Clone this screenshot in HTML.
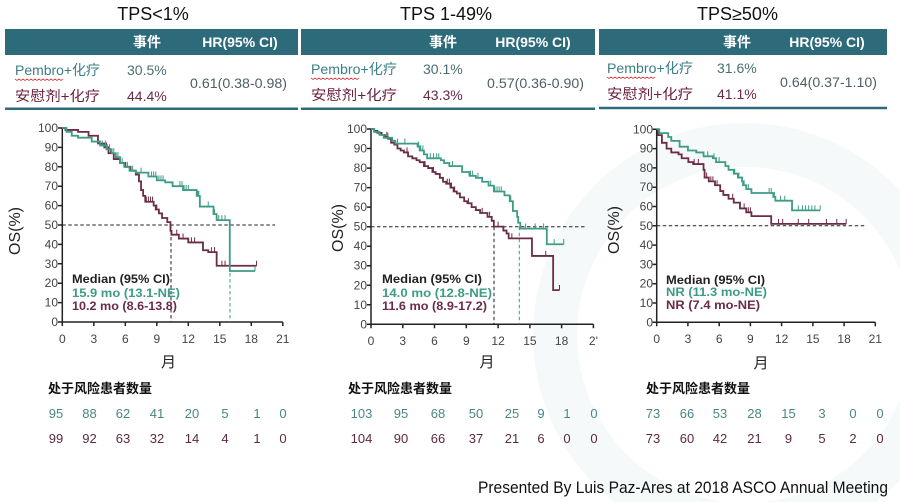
<!DOCTYPE html>
<html><head><meta charset="utf-8"><style>
html,body{margin:0;padding:0;background:#fff;}
svg{display:block;font-family:"Liberation Sans","Noto Sans CJK SC",sans-serif;}
.g{fill:none;stroke:#3d9b86;stroke-width:1.8;vector-effect:non-scaling-stroke;stroke-linejoin:miter}
.r{fill:none;stroke:#6a2c46;stroke-width:1.8;vector-effect:non-scaling-stroke;stroke-linejoin:miter}
.gt{fill:none;stroke:#3d9b86;stroke-width:1;vector-effect:non-scaling-stroke}
.rt{fill:none;stroke:#6a2c46;stroke-width:1;vector-effect:non-scaling-stroke}
.ax{stroke:#222;stroke-width:1.5;fill:none}
.dash{stroke:#222;stroke-width:1;stroke-dasharray:3.5 2.5;fill:none}
.dashg{stroke:#3d9b86;stroke-width:1;stroke-dasharray:3.5 2.5;fill:none}
.yl text{font-size:12px;fill:#444;text-anchor:end}
.xl text{font-size:12px;fill:#444;text-anchor:middle}
.bar{font-size:14px;font-weight:bold;fill:#fff;text-anchor:middle}
.lg{font-size:11.5px;font-weight:bold}
.rk{font-size:13px;text-anchor:middle}
</style></head><body>
<svg width="900" height="502" viewBox="0 0 900 502" xmlns="http://www.w3.org/2000/svg">
<!-- faint watermark -->
<circle cx="745" cy="335" r="190" fill="none" stroke="#f6f9f9" stroke-width="44"/>

<!-- ===== Headers ===== -->
<text x="153" y="20" font-size="18" text-anchor="middle" fill="#111">TPS&lt;1%</text>
<text x="446" y="20" font-size="18" text-anchor="middle" fill="#111">TPS 1-49%</text>
<text x="737.5" y="20" font-size="18" text-anchor="middle" fill="#111">TPS≥50%</text>

<rect x="5" y="29" width="293" height="26" fill="#2d6b7b"/>
<rect x="301" y="29" width="294" height="26" fill="#2d6b7b"/>
<rect x="599" y="29" width="288" height="26" fill="#2d6b7b"/>

<text class="bar" x="147" y="47">事件</text>
<text class="bar" x="240" y="47">HR(95% CI)</text>
<text class="bar" x="443" y="47">事件</text>
<text class="bar" x="533" y="47">HR(95% CI)</text>
<text class="bar" x="737" y="47">事件</text>
<text class="bar" x="827" y="47">HR(95% CI)</text>

<!-- chart1 header rows -->
<text x="15" y="75" font-size="14" fill="#3b7f86" textLength="85" lengthAdjust="spacingAndGlyphs">Pembro+化疗</text>
<path d="M15 79 l2 1.5 l2 -1.5 l2 1.5 l2 -1.5 l2 1.5 l2 -1.5 l2 1.5 l2 -1.5 l2 1.5 l2 -1.5 l2 1.5 l2 -1.5 l2 1.5 l2 -1.5 l2 1.5 l2 -1.5 l2 1.5 l2 -1.5 l2 1.5 l2 -1.5 l2 1.5 l2 -1.5 l2 1.5 l2 -1.5" stroke="#d04040" stroke-width="0.8" fill="none"/>
<text x="15" y="101" font-size="14" fill="#6b1f3d" textLength="85" lengthAdjust="spacingAndGlyphs">安慰剂+化疗</text>
<text x="127" y="75" font-size="14" fill="#4a6f73">30.5%</text>
<text x="127" y="101" font-size="14" fill="#6b2845">44.4%</text>
<text x="190" y="88" font-size="14" fill="#4d5f63" textLength="97" lengthAdjust="spacingAndGlyphs">0.61(0.38-0.98)</text>
<line x1="5" y1="108.8" x2="298" y2="108.8" stroke="#2d6b7b" stroke-width="2.5"/>

<!-- chart2 header rows -->
<text x="311" y="74" font-size="14" fill="#3b7f86" textLength="86" lengthAdjust="spacingAndGlyphs">Pembro+化疗</text>
<path d="M311 78 l2 1.5 l2 -1.5 l2 1.5 l2 -1.5 l2 1.5 l2 -1.5 l2 1.5 l2 -1.5 l2 1.5 l2 -1.5 l2 1.5 l2 -1.5 l2 1.5 l2 -1.5 l2 1.5 l2 -1.5 l2 1.5 l2 -1.5 l2 1.5 l2 -1.5 l2 1.5 l2 -1.5 l2 1.5 l2 -1.5" stroke="#d04040" stroke-width="0.8" fill="none"/>
<text x="311" y="100" font-size="14" fill="#6b1f3d" textLength="86" lengthAdjust="spacingAndGlyphs">安慰剂+化疗</text>
<text x="423" y="74" font-size="14" fill="#4a6f73">30.1%</text>
<text x="423" y="100" font-size="14" fill="#6b2845">43.3%</text>
<text x="487" y="88" font-size="14" fill="#4d5f63" textLength="97" lengthAdjust="spacingAndGlyphs">0.57(0.36-0.90)</text>
<line x1="301" y1="108.8" x2="595" y2="108.8" stroke="#2d6b7b" stroke-width="2.5"/>

<!-- chart3 header rows -->
<text x="607" y="73" font-size="14" fill="#3b7f86" textLength="86" lengthAdjust="spacingAndGlyphs">Pembro+化疗</text>
<path d="M607 77 l2 1.5 l2 -1.5 l2 1.5 l2 -1.5 l2 1.5 l2 -1.5 l2 1.5 l2 -1.5 l2 1.5 l2 -1.5 l2 1.5 l2 -1.5 l2 1.5 l2 -1.5 l2 1.5 l2 -1.5 l2 1.5 l2 -1.5 l2 1.5 l2 -1.5 l2 1.5 l2 -1.5 l2 1.5 l2 -1.5" stroke="#d04040" stroke-width="0.8" fill="none"/>
<text x="607" y="99" font-size="14" fill="#6b1f3d" textLength="86" lengthAdjust="spacingAndGlyphs">安慰剂+化疗</text>
<text x="717" y="73" font-size="14" fill="#4a6f73">31.6%</text>
<text x="717" y="99" font-size="14" fill="#6b2845">41.1%</text>
<text x="780" y="87" font-size="14" fill="#4d5f63" textLength="97" lengthAdjust="spacingAndGlyphs">0.64(0.37-1.10)</text>
<line x1="599" y1="108" x2="887" y2="108" stroke="#2d6b7b" stroke-width="2.5"/>

<!-- ===== Chart 1 ===== -->
<text transform="translate(20,231) rotate(-90)" font-size="16" text-anchor="middle" fill="#222">OS(%)</text>
<g class="yl" transform="translate(58,326)">
<text y="0">0</text><text y="-19.4">10</text><text y="-38.8">20</text><text y="-58.2">30</text><text y="-77.6">40</text><text y="-97">50</text><text y="-116.4">60</text><text y="-135.8">70</text><text y="-155.2">80</text><text y="-174.6">90</text><text y="-194">100</text>
</g>
<g class="xl" transform="translate(62.3,343)">
<text x="0">0</text><text x="31.5">3</text><text x="63">6</text><text x="94.5">9</text><text x="126">12</text><text x="157.5">15</text><text x="189">18</text><text x="220.5">21</text>
</g>
<path class="ax" d="M62.3 128 V322 H282.8"/>
<path class="ax" d="M58 322h4.3M58 302.6h4.3M58 283.2h4.3M58 263.8h4.3M58 244.4h4.3M58 225h4.3M58 205.6h4.3M58 186.2h4.3M58 166.8h4.3M58 147.4h4.3M58 128h4.3"/>
<path class="ax" d="M62.3 322v4M93.8 322v4M125.3 322v4M156.8 322v4M188.3 322v4M219.8 322v4M251.3 322v4M282.8 322v4"/>
<path class="dash" d="M62.3 225H275M171 225V322"/>
<path class="dashg" d="M230 225V322"/>
<g transform="translate(62.3,322) scale(10.5,-1.94)">
<polyline class="r" points="0,100 0.3,100 0.3,99 1.5,99 1.5,98 2.5,98 2.5,96 3.4,96 3.4,92 4,92 4,90 4.4,90 4.4,87 4.9,87 4.9,84 5.5,84 5.5,82 6,82 6,80 6.5,80 6.5,78 7,78 7,76 7.3,76 7.3,72.5 7.5,72.5 7.5,68 7.7,68 7.7,65 7.9,65 7.9,62 8.7,62 8.7,60 8.9,60 8.9,58 9.2,58 9.2,56 9.5,56 9.5,53.6 10,53.6 10,51.5 10.3,51.5 10.3,47 10.4,47 10.4,45 11.1,45 11.1,43 12,43 12,41 13.4,41 13.4,37 13.9,37 13.9,36 14.7,36 14.7,29 18.5,29"/>
<path class="rt" d="M4.2 90v2.6M4.6 87v2.6M8 62v2.6M8.2 62v2.6M8.4 62v2.6M8.6 62v2.6M9 58v2.6M10.9 45v2.6M11.5 43v2.6M12.3 41v2.6M12.6 41v2.6M14.2 36v2.6M14.5 36v2.6M15.2 29v2.6M15.5 29v2.6M18.5 29v2.6"/>
<polyline class="g" points="0,100 0.4,100 0.4,98 0.9,98 0.9,96 1.5,96 1.5,95 2.8,95 2.8,93 3.6,93 3.6,91 4.2,91 4.2,89 4.7,89 4.7,87 5.1,87 5.1,85 5.5,85 5.5,82 5.9,82 5.9,80 6.4,80 6.4,78 7,78 7,77 8.2,77 8.2,75 9,75 9,73 9.8,73 9.8,72 10.5,72 10.5,70 11.5,70 11.5,68 12.8,68 12.8,65 13.1,65 13.1,59.5 14.4,59.5 14.4,55.6 14.7,55.6 14.7,52.5 15.95,52.5 15.95,26.3 18.35,26.3"/>
<path class="gt" d="M3.8 91v2.6M4.1 91v2.6M4.3 89v2.6M4.5 89v2.6M4.9 87v2.6M5.3 85v2.6M5.7 82v2.6M6.2 80v2.6M6.7 78v2.6M7.5 77v2.6M8.5 75v2.6M8.7 75v2.6M8.9 75v2.6M9.2 73v2.6M9.4 73v2.6M9.6 73v2.6M11.2 70v2.6M11.4 70v2.6M11.6 68v2.6M11.8 68v2.6M12 68v2.6M12.9 65v2.6M13 65v2.6M13.9 59.5v2.6M14.5 55.6v2.6M14.9 52.5v2.6M15.2 52.5v2.6M15.5 52.5v2.6M18.35 26.3v2.6"/>
</g>
<text class="lg" x="72" y="283" fill="#222" textLength="98" lengthAdjust="spacingAndGlyphs">Median (95% CI)</text>
<text class="lg" x="72" y="297" fill="#3d9b86" textLength="108" lengthAdjust="spacingAndGlyphs">15.9 mo (13.1-NE)</text>
<text class="lg" x="72" y="310" fill="#6a2c46" textLength="105" lengthAdjust="spacingAndGlyphs">10.2 mo (8.6-13.8)</text>
<text x="168.5" y="367" font-size="15" text-anchor="middle" fill="#222">月</text>
<text x="48" y="393" font-size="13" font-weight="bold" fill="#111">处于风险患者数量</text>
<g class="rk" fill="#4a8686">
<text x="56" y="418">95</text><text x="89.5" y="418">88</text><text x="123" y="418">62</text><text x="157" y="418">41</text><text x="192" y="418">20</text><text x="225" y="418">5</text><text x="257" y="418">1</text><text x="283" y="418">0</text>
</g>
<g class="rk" fill="#5a2a40">
<text x="56" y="443">99</text><text x="89.5" y="443">92</text><text x="123" y="443">63</text><text x="157" y="443">32</text><text x="192" y="443">14</text><text x="225" y="443">4</text><text x="257" y="443">1</text><text x="283" y="443">0</text>
</g>

<!-- ===== Chart 2 ===== -->
<text transform="translate(343,228) rotate(-90)" font-size="16" text-anchor="middle" fill="#222">OS(%)</text>
<g class="yl" transform="translate(367,328.3)">
<text y="0">0</text><text y="-19.53">10</text><text y="-39.06">20</text><text y="-58.6">30</text><text y="-78.1">40</text><text y="-97.65">50</text><text y="-117.2">60</text><text y="-136.7">70</text><text y="-156.2">80</text><text y="-175.8">90</text><text y="-195.3">100</text>
</g>
<g class="xl" transform="translate(371,345)">
<text x="0">0</text><text x="31.77">3</text><text x="63.5">6</text><text x="95.3">9</text><text x="127.1">12</text><text x="158.9">15</text><text x="190.6">18</text><text x="222.4">2'</text>
</g>
<path class="ax" d="M371 129 V324.3 H593.4"/>
<path class="ax" d="M367 324.3h4M367 304.8h4M367 285.2h4M367 265.7h4M367 246.2h4M367 226.7h4M367 207.1h4M367 187.6h4M367 168.1h4M367 148.5h4M367 129h4"/>
<path class="ax" d="M371 324.3v4M402.8 324.3v4M434.5 324.3v4M466.3 324.3v4M498.1 324.3v4M529.9 324.3v4M561.6 324.3v4M593.4 324.3v4"/>
<path class="dash" d="M371 226.7H585M494 226.7V324.3"/>
<path class="dashg" d="M519.3 226.7V324.3"/>
<g transform="translate(371,324.3) scale(10.59,-1.953)">
<polyline class="r" points="0,100 0.3,100 0.3,99 0.6,99 0.6,98 1,98 1,97 1.3,97 1.3,96 1.6,96 1.6,95 1.9,95 1.9,93 2.2,93 2.2,92 2.5,92 2.5,90 2.8,90 2.8,89 3.1,89 3.1,88 3.5,88 3.5,86 3.9,86 3.9,85 4.3,85 4.3,84 4.6,84 4.6,83 5,83 5,81 5.4,81 5.4,80 5.8,80 5.8,78 6.1,78 6.1,77 6.5,77 6.5,75 6.8,75 6.8,73 7.1,73 7.1,72 7.5,72 7.5,70 7.8,70 7.8,68 8.1,68 8.1,67 8.4,67 8.4,65 8.8,65 8.8,63 9.1,63 9.1,62 9.5,62 9.5,60 9.9,60 9.9,58.5 10.3,58.5 10.3,57 11,57 11,55 11.4,55 11.4,53 11.6,53 11.6,50 12.5,50 12.5,48 12.8,48 12.8,46.5 13,46.5 13,44 15.2,44 15.2,35 17.2,35 17.2,17.5 17.8,17.5"/>
<path class="rt" d="M1.5 96v2.6M3.4 88v2.6M5.1 81v2.6M5.9 78v2.6M7.2 72v2.6M7.4 72v2.6M7.6 70v2.6M7.9 68v2.6M9.2 62v2.6M10.5 57v2.6M11.2 55v2.6M12 50v2.6M13.3 44v2.6M16.5 35v2.6M17.8 17.5v2.6"/>
<polyline class="g" points="0,100 0.3,100 0.3,98.5 0.8,98.5 0.8,97 1.2,97 1.2,95.5 2,95.5 2,94 2.3,94 2.3,92.5 4.4,92.5 4.4,91 4.6,91 4.6,89 5,89 5,87 5.3,87 5.3,85 6.6,85 6.6,84 6.9,84 6.9,82.6 7.4,82.6 7.4,81 8.6,81 8.6,78 9.3,78 9.3,76 9.9,76 9.9,75 10.5,75 10.5,73 11.1,73 11.1,71 11.6,71 11.6,68 12.6,68 12.6,66 13.1,66 13.1,63 13.4,63 13.4,58 13.8,58 13.8,55 13.9,55 13.9,52 14.1,52 14.1,49 16.6,49 16.6,41 18.2,41"/>
<path class="gt" d="M1.6 95.5v2.6M2.5 92.5v2.6M3.2 92.5v2.6M4.5 91v2.6M4.7 89v2.6M4.9 89v2.6M5.6 85v2.6M5.9 85v2.6M6.2 85v2.6M6.4 85v2.6M7.7 81v2.6M9.4 76v2.6M9.6 76v2.6M10.1 75v2.6M11.3 71v2.6M11.7 68v2.6M11.9 68v2.6M12.1 68v2.6M12.3 68v2.6M13.2 63v2.6M14.6 49v2.6M15.5 49v2.6M16.3 49v2.6M17.3 41v2.6M18.2 41v2.6"/>
</g>
<text class="lg" x="382" y="283" fill="#222" textLength="100" lengthAdjust="spacingAndGlyphs">Median (95% CI)</text>
<text class="lg" x="382" y="297" fill="#3d9b86" textLength="110" lengthAdjust="spacingAndGlyphs">14.0 mo (12.8-NE)</text>
<text class="lg" x="382" y="310" fill="#6a2c46" textLength="105" lengthAdjust="spacingAndGlyphs">11.6 mo (8.9-17.2)</text>
<text x="487" y="367" font-size="15" text-anchor="middle" fill="#222">月</text>
<text x="348" y="393" font-size="13" font-weight="bold" fill="#111">处于风险患者数量</text>
<g class="rk" fill="#4a8686">
<text x="361.5" y="418">103</text><text x="401" y="418">95</text><text x="438" y="418">68</text><text x="476" y="418">50</text><text x="512" y="418">25</text><text x="541" y="418">9</text><text x="567" y="418">1</text><text x="594" y="418">0</text>
</g>
<g class="rk" fill="#5a2a40">
<text x="361.5" y="443">104</text><text x="401" y="443">90</text><text x="438" y="443">66</text><text x="476" y="443">37</text><text x="512" y="443">21</text><text x="541" y="443">6</text><text x="567" y="443">0</text><text x="594" y="443">0</text>
</g>

<!-- ===== Chart 3 ===== -->
<text transform="translate(619,230) rotate(-90)" font-size="16" text-anchor="middle" fill="#222">OS(%)</text>
<g class="yl" transform="translate(653,326.3)">
<text y="0">0</text><text y="-19.3">10</text><text y="-38.6">20</text><text y="-57.9">30</text><text y="-77.2">40</text><text y="-96.5">50</text><text y="-115.8">60</text><text y="-135.1">70</text><text y="-154.4">80</text><text y="-173.7">90</text><text y="-193">100</text>
</g>
<g class="xl" transform="translate(656.7,343)">
<text x="0">0</text><text x="31.23">3</text><text x="62.5">6</text><text x="93.7">9</text><text x="124.9">12</text><text x="156.2">15</text><text x="187.4">18</text><text x="218.6">21</text>
</g>
<path class="ax" d="M656.7 129.3 V322.3 H875.3"/>
<path class="ax" d="M652.7 322.3h4M652.7 303h4M652.7 283.7h4M652.7 264.4h4M652.7 245.1h4M652.7 225.8h4M652.7 206.5h4M652.7 187.2h4M652.7 167.9h4M652.7 148.6h4M652.7 129.3h4"/>
<path class="ax" d="M656.7 322.3v4M687.9 322.3v4M719.2 322.3v4M750.4 322.3v4M781.6 322.3v4M812.9 322.3v4M844.1 322.3v4M875.3 322.3v4"/>
<path class="dash" d="M656.7 225.8H866.7"/>
<g transform="translate(656.7,322.3) scale(10.41,-1.93)">
<polyline class="r" points="0,100 0.15,100 0.15,97 0.5,97 0.5,93 0.95,93 0.95,90 1.4,90 1.4,88 2.1,88 2.1,87 2.4,87 2.4,85 3.04,85 3.04,83 3.5,83 3.5,82 4.5,82 4.5,79 4.6,79 4.6,75 5,75 5,73 5.6,73 5.6,71 6.1,71 6.1,68 6.4,68 6.4,66 6.9,66 6.9,64 7.4,64 7.4,62 8,62 8,59 8.6,59 8.6,57 9.1,57 9.1,55 11,55 11,51 18.2,51"/>
<path class="rt" d="M3.6 82v2.6M4 82v2.6M4.8 75v2.6M5.2 73v2.6M5.4 73v2.6M5.8 71v2.6M7.3 64v2.6M8.4 59v2.6M8.8 57v2.6M9 57v2.6M11.7 51v2.6M12.1 51v2.6M13.6 51v2.6M14.6 51v2.6M16.3 51v2.6M17.3 51v2.6M18.2 51v2.6"/>
<polyline class="g" points="0,100 0.25,100 0.25,98 1.1,98 1.1,96 1.4,96 1.4,94 2.2,94 2.2,91 3,91 3,89 3.8,89 3.8,88 4.5,88 4.5,86 5.4,86 5.4,85 5.7,85 5.7,83 6.6,83 6.6,81 6.9,81 6.9,79 7.4,79 7.4,77 7.8,77 7.8,75 8.2,75 8.2,73 8.3,73 8.3,71 8.6,71 8.6,69 9.1,69 9.1,67 11.2,67 11.2,65 11.4,65 11.4,63 13,63 13,58 15.7,58"/>
<path class="gt" d="M4.9 86v2.6M5.5 85v2.6M6 83v2.6M7.5 77v2.6M7.9 75v2.6M8.4 71v2.6M8.8 69v2.6M10.8 67v2.6M11 67v2.6M11.3 65v2.6M11.9 63v2.6M12.3 63v2.6M13.6 58v2.6M14 58v2.6M14.3 58v2.6M14.6 58v2.6M14.9 58v2.6M15.2 58v2.6M15.7 58v2.6"/>
</g>
<text class="lg" x="666" y="284" fill="#222" textLength="99" lengthAdjust="spacingAndGlyphs">Median (95% CI)</text>
<text class="lg" x="666" y="296" fill="#3d9b86" textLength="101" lengthAdjust="spacingAndGlyphs">NR (11.3 mo-NE)</text>
<text class="lg" x="666" y="309" fill="#6a2c46" textLength="94" lengthAdjust="spacingAndGlyphs">NR (7.4 mo-NE)</text>
<text x="761" y="368" font-size="15" text-anchor="middle" fill="#222">月</text>
<text x="646" y="393" font-size="13" font-weight="bold" fill="#111">处于风险患者数量</text>
<g class="rk" fill="#4a8686">
<text x="653" y="418">73</text><text x="687" y="418">66</text><text x="720" y="418">53</text><text x="754.5" y="418">28</text><text x="788.5" y="418">15</text><text x="822" y="418">3</text><text x="853" y="418">0</text><text x="880" y="418">0</text>
</g>
<g class="rk" fill="#5a2a40">
<text x="653" y="443">73</text><text x="687" y="443">60</text><text x="720" y="443">42</text><text x="754.5" y="443">21</text><text x="788.5" y="443">9</text><text x="822" y="443">5</text><text x="853" y="443">2</text><text x="880" y="443">0</text>
</g>

<!-- footer -->
<text x="478" y="493" font-size="16.5" fill="#111" textLength="410" lengthAdjust="spacingAndGlyphs">Presented By Luis Paz-Ares at 2018 ASCO Annual Meeting</text>
</svg>
</body></html>
